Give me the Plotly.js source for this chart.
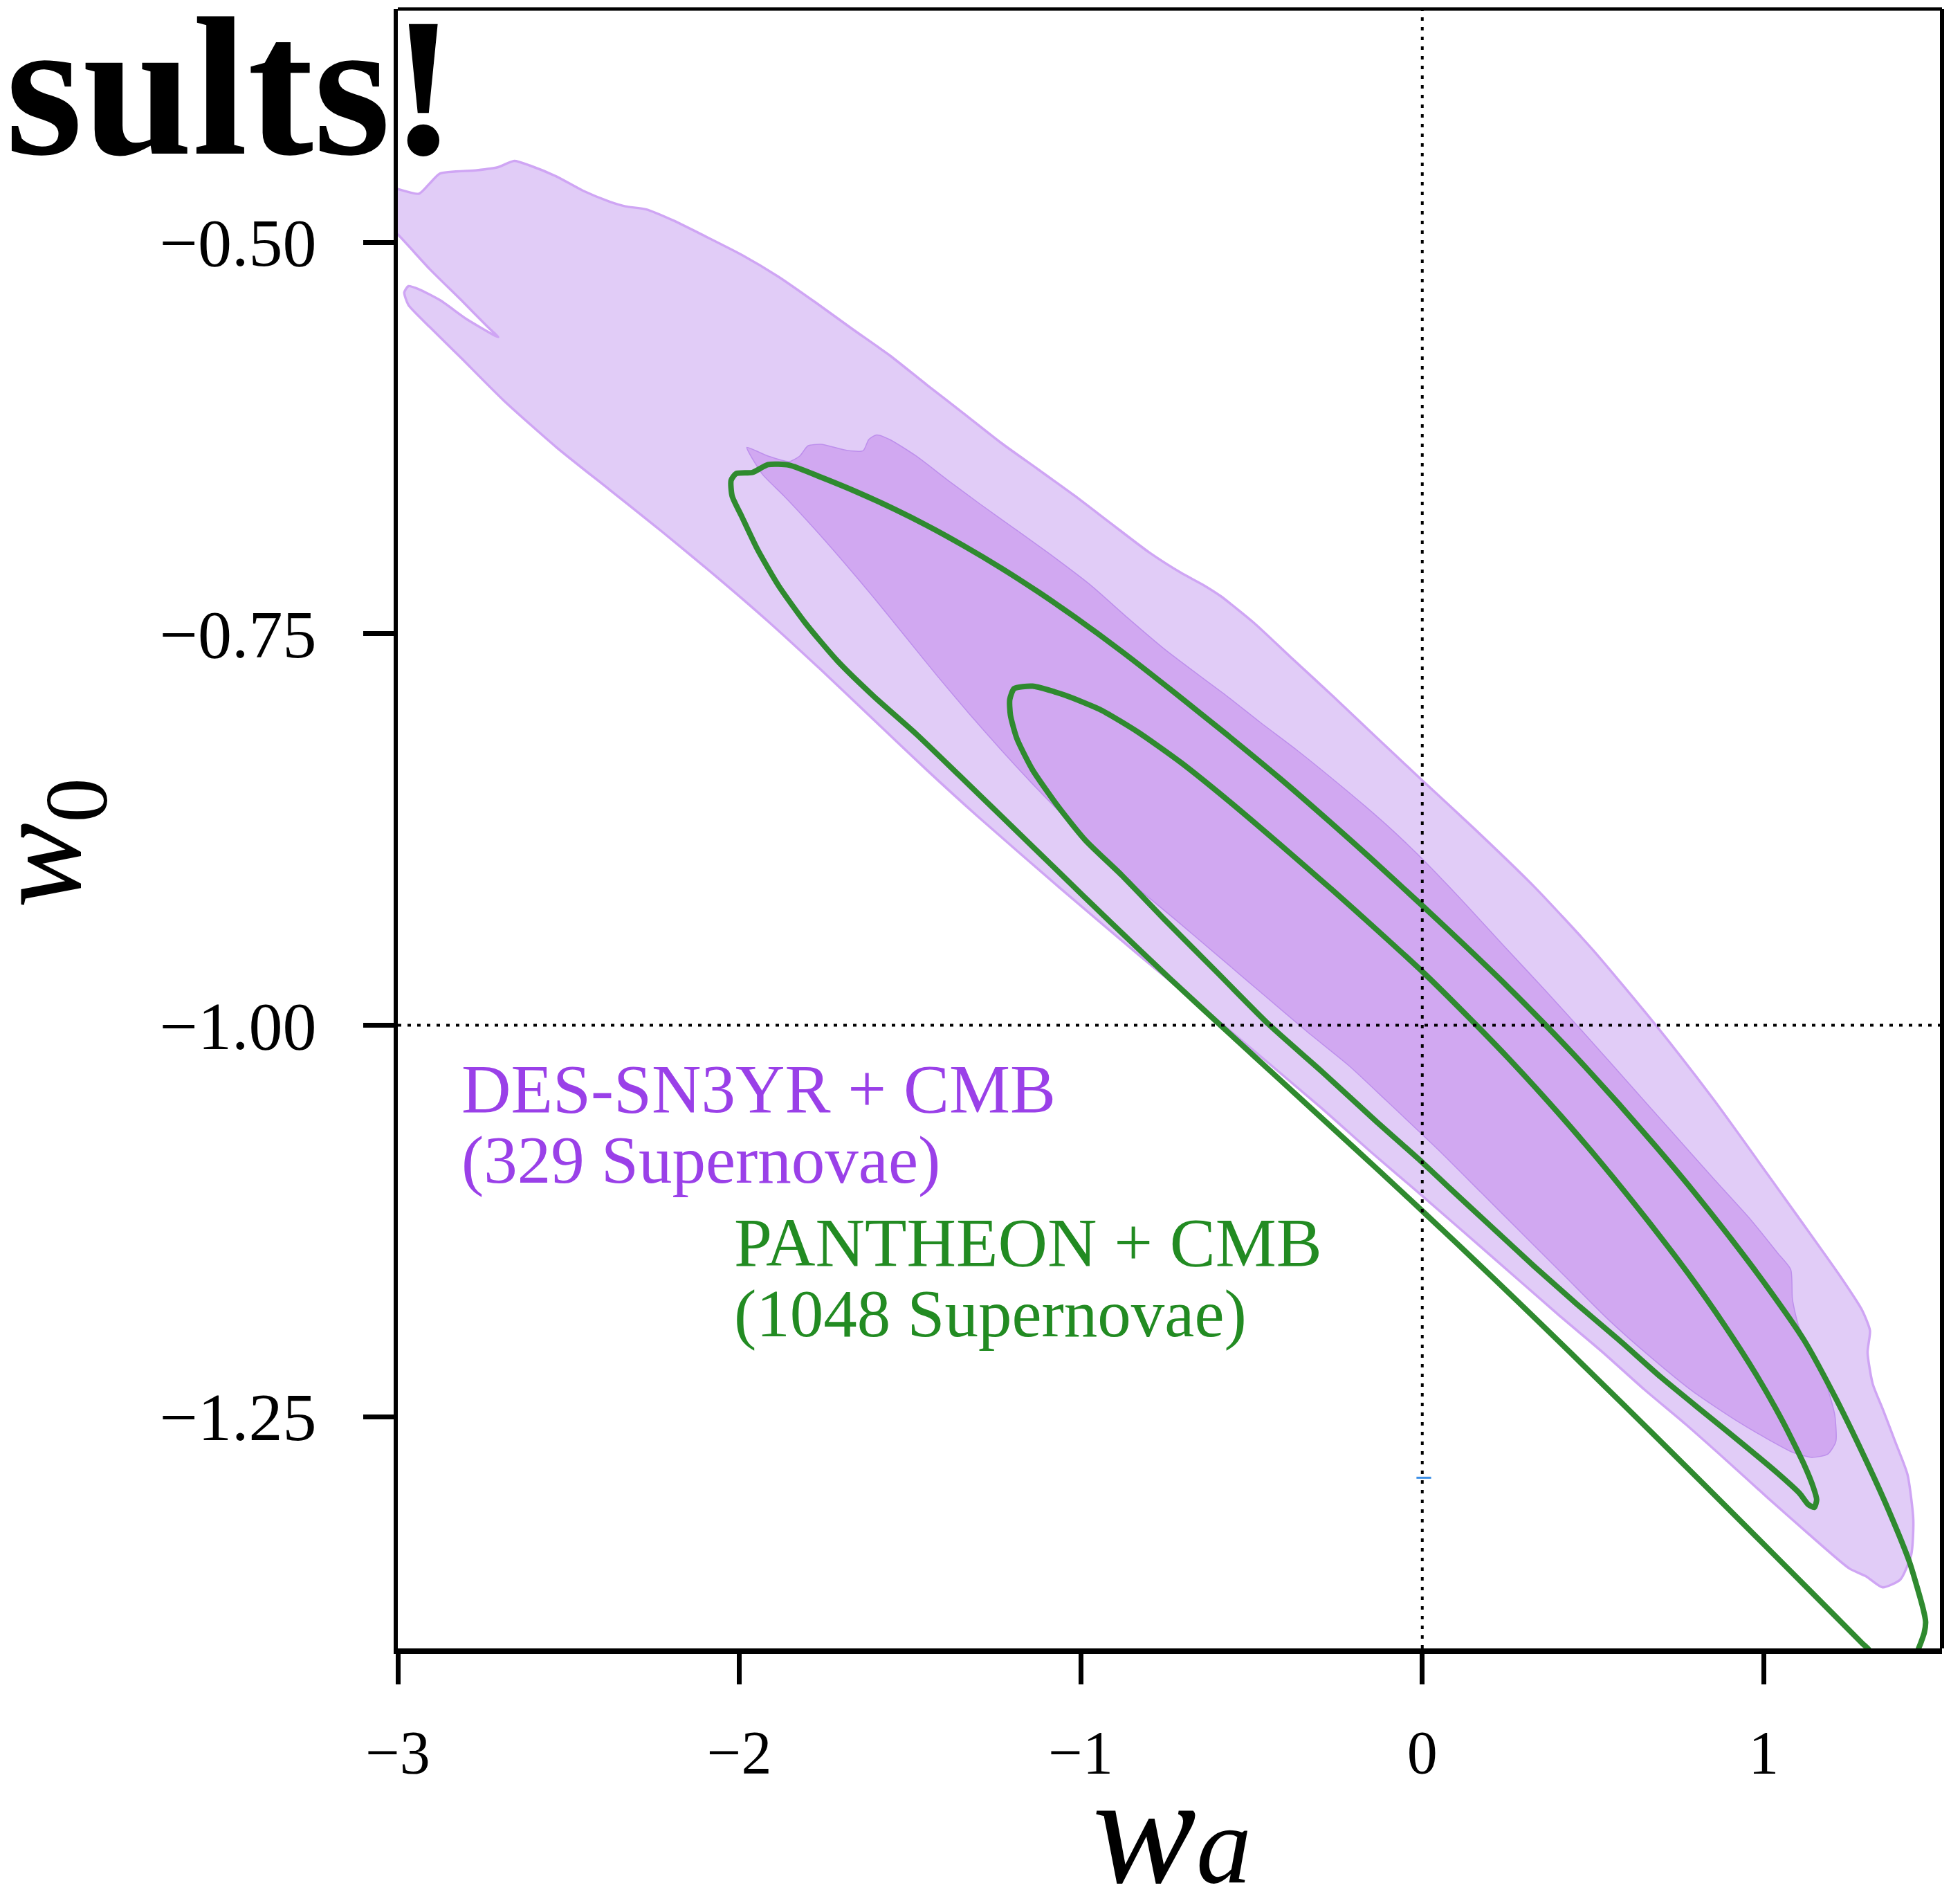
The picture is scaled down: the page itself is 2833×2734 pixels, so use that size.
<!DOCTYPE html>
<html><head><meta charset="utf-8">
<script src="https://cdn.plot.ly/plotly-3.0.1.min.js"></script>
<style>html,body{margin:0;padding:0;background:#fff;}#chart{width:2833px;height:2734px;}</style>
</head><body><div id="chart"></div>
<script>
// ---- axis ticks ----
const xTickVals = [-3, -2, -1, 0, 1];
const yTickVals = [-0.5, -0.75, -1.0, -1.25];
const xRange = [-3, 1.522];
const yRange = [-1.398, -0.351];
const refWa = 0;     // vertical dotted reference line (w_a = 0)
const refW0 = -1;    // horizontal dotted reference line (w_0 = -1)

// ---- DES-SN3YR + CMB : 95% region (light) ----
const desOuterWa = [-3.1,-3.0,-2.938,-2.907,-2.876,-2.768,-2.706,-2.659,-2.613,-2.535,-2.458,-2.380,-2.334,-2.272,-2.194,-2.101,-1.993,-1.885,-1.776,-1.668,-1.559,-1.451,-1.342,-1.234,-1.125,-1.017,-0.909,-0.800,-0.707,-0.640,-0.590,-0.493,-0.385,-0.261,-0.137,-0.013,0.150,0.330,0.500,0.684,0.855,1.040,1.226,1.288,1.311,1.304,1.319,1.350,1.385,1.421,1.438,1.432,1.400,1.348,1.300,1.251,1.132,1.011,0.891,0.770,0.650,0.529,0.397,0.200,0.000,-0.150,-0.300,-0.571,-0.831,-1.063,-1.300,-1.451,-1.606,-1.761,-1.916,-2.070,-2.225,-2.380,-2.535,-2.690,-2.814,-2.907,-2.969,-2.981,-2.969,-2.938,-2.876,-2.799,-2.721,-2.706,-2.737,-2.814,-2.907,-3.0,-3.1,-3.1];
const desOuterW0 = [-0.460,-0.466,-0.469,-0.4625,-0.456,-0.454,-0.452,-0.448,-0.451,-0.458,-0.467,-0.474,-0.477,-0.479,-0.486,-0.496,-0.508,-0.522,-0.5385,-0.5555,-0.5723,-0.591,-0.6095,-0.628,-0.645,-0.662,-0.680,-0.698,-0.711,-0.719,-0.726,-0.743,-0.765,-0.790,-0.8156,-0.841,-0.874,-0.912,-0.952,-1.000,-1.048,-1.104,-1.161,-1.182,-1.195,-1.209,-1.229,-1.246,-1.266,-1.287,-1.316,-1.338,-1.354,-1.359,-1.352,-1.347,-1.325,-1.3017,-1.278,-1.2546,-1.2326,-1.209,-1.1846,-1.147,-1.109,-1.081,-1.052,-1.002,-0.955,-0.912,-0.867,-0.837,-0.805,-0.773,-0.742,-0.713,-0.685,-0.658,-0.631,-0.601,-0.574,-0.554,-0.540,-0.532,-0.528,-0.530,-0.537,-0.549,-0.559,-0.5605,-0.554,-0.537,-0.517,-0.495,-0.475,-0.460];

// ---- DES-SN3YR + CMB : 68% region (dark) ----
const desInnerWa = [-1.978,-1.916,-1.854,-1.823,-1.799,-1.761,-1.683,-1.637,-1.621,-1.598,-1.559,-1.482,-1.389,-1.296,-1.187,-1.079,-0.971,-0.862,-0.754,-0.645,-0.571,-0.478,-0.369,-0.261,-0.168,-0.090,-0.013,0.111,0.235,0.359,0.483,0.607,0.731,0.855,0.963,1.040,1.079,1.084,1.102,1.149,1.187,1.208,1.211,1.187,1.141,1.087,1.009,0.916,0.793,0.669,0.545,0.421,0.297,0.173,0.049,-0.106,-0.214,-0.338,-0.462,-0.602,-0.726,-0.880,-0.971,-1.048,-1.141,-1.234,-1.327,-1.420,-1.513,-1.606,-1.699,-1.792,-1.869,-1.931,-1.970,-1.978];
const desInnerW0 = [-0.631,-0.6365,-0.640,-0.6365,-0.630,-0.629,-0.633,-0.633,-0.626,-0.623,-0.626,-0.6365,-0.652,-0.667,-0.684,-0.701,-0.719,-0.740,-0.760,-0.778,-0.790,-0.806,-0.824,-0.843,-0.860,-0.875,-0.891,-0.919,-0.9484,-0.9775,-1.0073,-1.0377,-1.0681,-1.0985,-1.1245,-1.1453,-1.156,-1.175,-1.192,-1.212,-1.232,-1.249,-1.266,-1.274,-1.276,-1.273,-1.264,-1.252,-1.234,-1.212,-1.188,-1.161,-1.134,-1.107,-1.080,-1.048,-1.026,-1.004,-0.981,-0.955,-0.932,-0.904,-0.885,-0.867,-0.846,-0.824,-0.801,-0.777,-0.752,-0.727,-0.703,-0.680,-0.662,-0.6485,-0.635,-0.631];

// ---- PANTHEON + CMB : 95% contour (open at the bottom axis) ----
const panOuterWa = [1.440,1.447,1.459,1.470,1.474,1.467,1.427,1.366,1.304,1.211,1.118,1.010,0.901,0.792,0.684,0.576,0.467,0.359,0.250,0.126,0.002,-0.152,-0.270,-0.416,-0.571,-0.726,-0.880,-1.017,-1.125,-1.234,-1.342,-1.451,-1.544,-1.652,-1.761,-1.854,-1.916,-1.962,-2.009,-2.024,-2.021,-1.993,-1.947,-1.885,-1.807,-1.714,-1.606,-1.482,-1.358,-1.230,-1.070,-0.909,-0.740,-0.571,-0.416,-0.261,-0.130,0.002,0.100,0.204,0.359,0.514,0.669,0.823,0.978,1.133,1.288,1.310,1.340];
const panOuterW0 = [-1.420,-1.402,-1.395,-1.388,-1.381,-1.373,-1.343,-1.310,-1.280,-1.2383,-1.2011,-1.1671,-1.1355,-1.1055,-1.0774,-1.0504,-1.0242,-0.9994,-0.9754,-0.9494,-0.924,-0.8932,-0.8702,-0.8425,-0.8146,-0.7875,-0.7613,-0.7394,-0.7232,-0.7079,-0.6939,-0.6808,-0.6706,-0.6598,-0.650,-0.6423,-0.642,-0.647,-0.6477,-0.652,-0.662,-0.675,-0.696,-0.7193,-0.743,-0.767,-0.790,-0.814,-0.840,-0.867,-0.901,-0.935,-0.970,-1.004,-1.035,-1.066,-1.0922,-1.119,-1.1391,-1.1606,-1.1932,-1.2262,-1.2595,-1.2929,-1.3267,-1.3606,-1.3947,-1.3995,-1.430];

// ---- PANTHEON + CMB : 68% contour ----
const panInnerWa = [-1.208,-1.195,-1.141,-1.048,-0.940,-0.831,-0.707,-0.571,-0.416,-0.261,-0.137,0.002,0.126,0.266,0.405,0.529,0.653,0.777,0.886,0.978,1.056,1.118,1.145,1.155,1.148,1.130,1.105,1.040,0.947,0.823,0.700,0.576,0.452,0.328,0.204,0.080,0.002,-0.137,-0.292,-0.447,-0.602,-0.757,-0.881,-0.986,-1.064,-1.141,-1.187,-1.206,-1.208];
const panInnerW0 = [-0.792,-0.785,-0.7835,-0.7891,-0.7988,-0.813,-0.8322,-0.856,-0.8847,-0.9141,-0.9383,-0.9661,-0.9928,-1.0243,-1.0577,-1.0893,-1.1228,-1.1581,-1.1919,-1.2232,-1.2532,-1.2805,-1.295,-1.303,-1.308,-1.306,-1.299,-1.286,-1.269,-1.247,-1.225,-1.201,-1.178,-1.154,-1.129,-1.104,-1.088,-1.061,-1.030,-1.000,-0.966,-0.932,-0.904,-0.882,-0.861,-0.837,-0.817,-0.802,-0.792];

// ---- small blue mark on the w_a = 0 line ----
const markWa = [-0.017, 0.026];
const markW0 = [-1.289, -1.289];

// ---- texts ----
const slideTitle = 'sults!';
const desLabel = ['DES-SN3YR + CMB', '(329 Supernovae)'];
const panLabel = ['PANTHEON + CMB', '(1048 Supernovae)'];
const xTitle = ['w', 'a'];
const yTitle = ['w', '0'];

const purpleText = '#9a40e8';
const greenText = '#228b22';
const greenLine = '#2f8a2f';
const serif = 'Liberation Serif, Times New Roman, serif';

const traces = [
  {x: desOuterWa, y: desOuterW0, type: 'scatter', mode: 'lines', fill: 'toself',
   fillcolor: '#e1ccf7', line: {color: '#cfa5f4', width: 3.5, shape: 'spline', smoothing: 0.6},
   hoverinfo: 'skip'},
  {x: desInnerWa, y: desInnerW0, type: 'scatter', mode: 'lines', fill: 'toself',
   fillcolor: '#d1a8f1', line: {color: '#bd8fec', width: 1.5, shape: 'spline', smoothing: 0.6},
   hoverinfo: 'skip'},
  {x: panOuterWa, y: panOuterW0, type: 'scatter', mode: 'lines',
   line: {color: greenLine, width: 8, shape: 'spline', smoothing: 0.6}, hoverinfo: 'skip'},
  {x: panInnerWa, y: panInnerW0, type: 'scatter', mode: 'lines',
   line: {color: greenLine, width: 8, shape: 'spline', smoothing: 0.6}, hoverinfo: 'skip'},
  {x: markWa, y: markW0, type: 'scatter', mode: 'lines',
   line: {color: '#3d8fe6', width: 3}, hoverinfo: 'skip'}
];

const layout = {
  width: 2833, height: 2734,
  margin: {l: 575, r: 26, t: 13, b: 352, pad: 0},
  paper_bgcolor: '#ffffff', plot_bgcolor: '#ffffff',
  showlegend: false,
  xaxis: {
    range: xRange, tickvals: xTickVals, ticks: 'outside', ticklen: 44, tickwidth: 7,
    tickcolor: '#000', showline: true, linewidth: 8, linecolor: '#000',
    showgrid: false, zeroline: false, ticklabelstandoff: 22,
    tickfont: {family: serif, size: 88, color: '#000'}
  },
  yaxis: {
    range: yRange, tickvals: yTickVals, tickformat: '.2f', ticks: 'outside', ticklen: 44, tickwidth: 7,
    tickcolor: '#000', showline: true, linewidth: 6, linecolor: '#000',
    showgrid: false, zeroline: false, ticklabelstandoff: 48,
    tickfont: {family: serif, size: 98, color: '#000'}
  },
  shapes: [
    {type: 'line', xref: 'x', yref: 'paper', x0: refWa, x1: refWa, y0: 0, y1: 1,
     line: {color: '#000', width: 4, dash: '5px,9px'}, layer: 'above'},
    {type: 'line', xref: 'paper', yref: 'y', x0: 0, x1: 1, y0: refW0, y1: refW0,
     line: {color: '#000', width: 4, dash: '5px,9px'}, layer: 'above'},
    {type: 'line', xref: 'paper', yref: 'paper', x0: 0, x1: 1, y0: 1, y1: 1,
     line: {color: '#000', width: 5}, layer: 'above'},
    {type: 'line', xref: 'paper', yref: 'paper', x0: 1, x1: 1, y0: 0, y1: 1,
     line: {color: '#000', width: 6}, layer: 'above'}
  ],
  annotations: [
    {text: slideTitle, xref: 'paper', yref: 'paper', x: 0.0390, y: 0.9076,
     xanchor: 'right', yanchor: 'bottom', showarrow: false, height: 209, valign: 'middle',
     font: {family: serif, size: 286, color: '#000', weight: 'bold'}},
    {text: desLabel[0], xref: 'paper', yref: 'paper', x: 0.0403, y: 0.3174,
     xanchor: 'left', yanchor: 'bottom', showarrow: false,
     font: {family: serif, size: 99, color: purpleText}},
    {text: desLabel[1], xref: 'paper', yref: 'paper', x: 0.0403, y: 0.2744,
     xanchor: 'left', yanchor: 'bottom', showarrow: false,
     font: {family: serif, size: 97, color: purpleText}},
    {text: panLabel[0], xref: 'paper', yref: 'paper', x: 0.2168, y: 0.2237,
     xanchor: 'left', yanchor: 'bottom', showarrow: false,
     font: {family: serif, size: 99, color: greenText}},
    {text: panLabel[1], xref: 'paper', yref: 'paper', x: 0.2168, y: 0.1807,
     xanchor: 'left', yanchor: 'bottom', showarrow: false,
     font: {family: serif, size: 97, color: greenText}},
    {text: '<i>' + xTitle[0] + '</i><span style="font-size:160px"><i>' + xTitle[1] + '</i></span>',
     xref: 'paper', yref: 'paper', x: 0.4489, y: -0.1452,
     xanchor: 'left', yanchor: 'bottom', showarrow: false, height: 160, valign: 'middle',
     font: {family: serif, size: 225, color: '#000'}},
    {text: '<i>' + yTitle[0] + '</i><sub>' + yTitle[1] + '</sub>', xref: 'paper', yref: 'paper', x: -0.2119, y: 0.4913,
     xanchor: 'center', yanchor: 'middle', textangle: -90, showarrow: false, height: 160, valign: 'bottom',
     font: {family: serif, size: 185, color: '#000'}}
  ]
};

Plotly.newPlot('chart', traces, layout, {staticPlot: true, displayModeBar: false});
</script>
</body></html>
